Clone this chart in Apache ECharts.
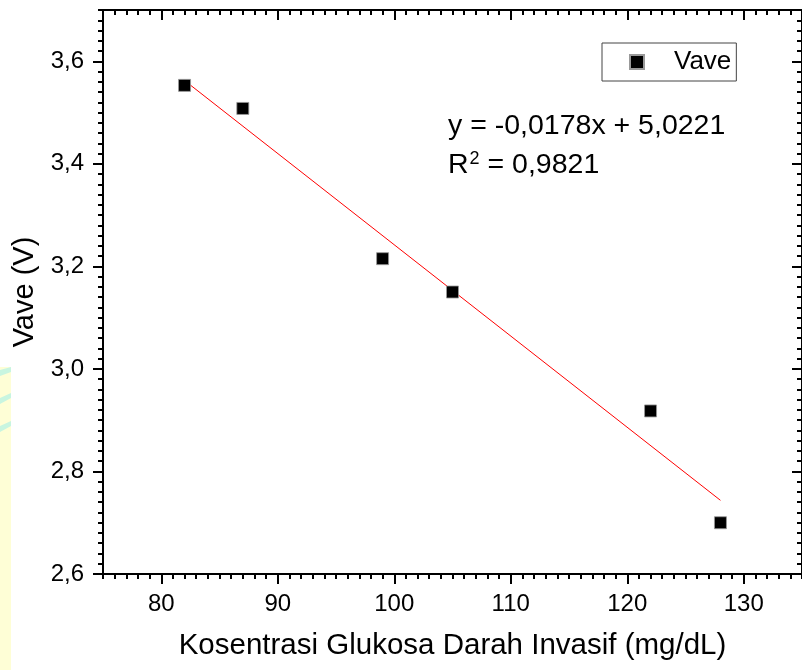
<!DOCTYPE html>
<html>
<head>
<meta charset="utf-8">
<script src="https://cdn.jsdelivr.net/npm/echarts@6/dist/echarts.min.js"></script>
<style>
html,body{margin:0;padding:0;background:#fff;}
#chart{width:802px;height:670px;}
</style>
</head>
<body>
<div id="chart"></div>
<script>
// ---- data ----
const glucose = [82, 87, 99, 105, 122, 128];
const vave = [3.553, 3.508, 3.215, 3.150, 2.918, 2.700];
const xTickValues = [80, 90, 100, 110, 120, 130];
const yTickValues = [2.6, 2.8, 3.0, 3.2, 3.4, 3.6];
const fitSlope = -0.0178;
const fitIntercept = 5.0221;
const equationText = 'y = -0,0178x + 5,0221';
const r2Value = '0,9821';
const seriesName = 'Vave';
const xTitle = 'Kosentrasi Glukosa Darah Invasif (mg/dL)';
const yTitle = 'Vave (V)';

const FONT = 'Arial, "Liberation Sans", sans-serif';
const points = glucose.map((x, i) => [x, vave[i]]);
const xMinData = Math.min(...glucose), xMaxData = Math.max(...glucose);
const fitLine = [xMinData, xMaxData].map(x => [x, fitSlope * x + fitIntercept]);

const lineStyle = {color: '#000', width: 2};
function mainX(pos, inside, extra) {
  return Object.assign({
    type: 'value', position: pos, min: 75, max: 135,
    axisLine: {show: true, onZero: false, lineStyle: lineStyle},
    axisTick: {show: true, inside: inside, customValues: xTickValues, length: 10, lineStyle: lineStyle},
    axisLabel: {show: false},
    splitLine: {show: false}
  }, extra || {});
}
function minorX(pos, inside) {
  return {
    type: 'value', position: pos, min: 75, max: 135, interval: 1,
    axisLine: {show: false, onZero: false},
    axisTick: {show: true, inside: inside, length: 5, lineStyle: lineStyle},
    axisLabel: {show: false},
    splitLine: {show: false}
  };
}
function mainY(pos, inside, extra) {
  return Object.assign({
    type: 'value', position: pos, min: 2.6, max: 3.7,
    axisLine: {show: true, onZero: false, lineStyle: lineStyle},
    axisTick: {show: true, inside: inside, customValues: yTickValues, length: 10, lineStyle: lineStyle},
    axisLabel: {show: false},
    splitLine: {show: false}
  }, extra || {});
}
function minorY(pos, inside) {
  return {
    type: 'value', position: pos, min: 2.6, max: 3.7, interval: 0.02,
    axisLine: {show: false, onZero: false},
    axisTick: {show: true, inside: inside, length: 5, lineStyle: lineStyle},
    axisLabel: {show: false},
    splitLine: {show: false}
  };
}

const chart = echarts.init(document.getElementById('chart'), null, {renderer: 'canvas'});
chart.setOption({
  backgroundColor: '#fff',
  animation: false,
  grid: {left: 103, top: 10, width: 700, height: 564},
  graphic: [
    {type: 'rect', shape: {x: 0, y: 367, width: 11, height: 303}, style: {fill: '#fefed6'}, z: -10},
    {type: 'polygon', shape: {points: [[0, 370], [11, 367], [11, 372], [0, 376]]}, style: {fill: '#c8f5e0'}, z: -9},
    {type: 'polygon', shape: {points: [[0, 398], [11, 393], [11, 398], [0, 404]]}, style: {fill: '#c8f5e0'}, z: -9},
    {type: 'polygon', shape: {points: [[0, 426], [11, 421], [11, 426], [0, 432]]}, style: {fill: '#c8f5e0'}, z: -9},
    {type: 'text', left: 448, top: 112, style: {text: equationText, fontSize: 28.5, fontFamily: FONT, fill: '#000'}},
    {type: 'text', left: 448, top: 150, style: {
      text: '{n|R}{s|2}{n| = ' + r2Value + '}',
      rich: {
        n: {fontSize: 28.5, fontFamily: FONT, fill: '#000', lineHeight: 30},
        s: {fontSize: 18, fontFamily: FONT, fill: '#000', verticalAlign: 'top', lineHeight: 30, padding: [0, 0, 8, 1]}
      }
    }}
  ],
  legend: {
    data: [seriesName], left: 602, top: 43,
    padding: [6, 5, 6, 27],
    borderColor: '#444', borderWidth: 1,
    icon: 'rect', itemWidth: 14, itemHeight: 14,
    textStyle: {fontSize: 26, fontFamily: FONT, color: '#000', lineHeight: 26, padding: [0, 0, 0, 25]}
  },
  xAxis: [
    mainX('bottom', false, {
      axisLabel: {show: true, customValues: xTickValues, margin: 18, fontSize: 24, fontFamily: FONT, color: '#000'},
      name: xTitle, nameLocation: 'middle', nameGap: 57,
      nameTextStyle: {fontSize: 29.5, fontFamily: FONT, color: '#000'}
    }),
    minorX('bottom', false),
    mainX('top', true),
    minorX('top', true)
  ],
  yAxis: [
    mainY('left', false, {
      axisLabel: {show: true, customValues: yTickValues, margin: 19, fontSize: 24, fontFamily: FONT, color: '#000',
        formatter: v => v.toFixed(1).replace('.', ',')},
      name: yTitle, nameLocation: 'middle', nameGap: 64, nameRotate: 90,
      nameTextStyle: {fontSize: 29, fontFamily: FONT, color: '#000'}
    }),
    minorY('left', false),
    mainY('right', true),
    minorY('right', true)
  ],
  series: [
    {
      name: 'fit', type: 'line', data: fitLine, xAxisIndex: 0, yAxisIndex: 0,
      showSymbol: false, symbol: 'none', silent: true,
      lineStyle: {color: '#ff0000', width: 1}, z: 2
    },
    {
      name: seriesName, type: 'scatter', data: points, xAxisIndex: 0, yAxisIndex: 0,
      symbol: 'rect', symbolSize: 12,
      itemStyle: {color: '#000', borderColor: '#999', borderWidth: 0.8, opacity: 1}, z: 3
    }
  ]
});
</script>
</body>
</html>
